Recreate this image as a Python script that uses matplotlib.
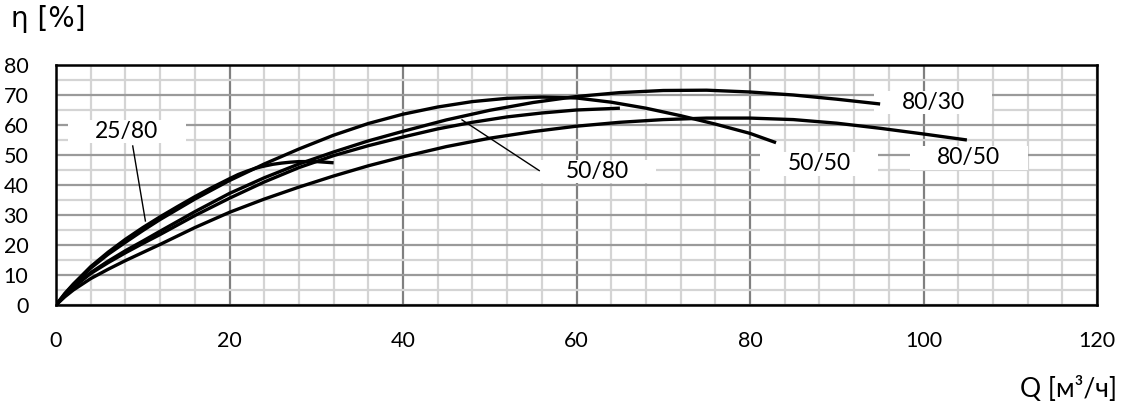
import matplotlib
matplotlib.use('Agg')
import matplotlib.pyplot as plt
from matplotlib.path import Path
from matplotlib.ticker import MultipleLocator

plt.rcParams['font.family'] = ['Lato', 'DejaVu Sans']

# efficiency curves: Q [m3/h] -> eta [%]
q_25_80 = [0, 1, 2, 4, 6, 8, 10, 12, 14, 16, 18, 20, 21, 22, 23, 24, 25, 26, 27, 28, 30, 32]
eta_25_80 = [0, 3.8, 7.0, 12.8, 17.6, 21.9, 25.8, 29.4, 32.8, 36.1, 39.2, 42.1, 43.5, 44.6,
             45.6, 46.3, 46.9, 47.3, 47.6, 47.8, 47.8, 47.4]

q_50_50 = [0, 1, 2, 4, 6, 8, 10, 12, 16, 20, 24, 28, 32, 36, 40, 44, 48, 52, 56, 60, 64, 68,
           72, 76, 80, 83]
eta_50_50 = [0, 3.6, 6.8, 12.3, 16.9, 20.9, 24.8, 28.5, 35.3, 41.5, 47.0, 52.0, 56.6, 60.5,
             63.6, 66.0, 67.8, 68.9, 69.3, 69.0, 67.6, 65.6, 63.1, 60.3, 57.2, 54.1]

q_50_80 = [0, 1, 2, 4, 6, 8, 10, 12, 16, 20, 24, 28, 32, 36, 40, 44, 48, 52, 56, 60, 65]
eta_50_80 = [0, 3.1, 5.9, 10.5, 14.1, 17.4, 20.5, 23.5, 29.8, 35.6, 41.0, 45.8, 49.8, 53.1,
             56.0, 58.7, 60.9, 62.7, 64.0, 65.0, 65.6]

q_80_30 = [0, 1, 2, 4, 6, 8, 10, 12, 16, 20, 24, 28, 32, 36, 40, 45, 50, 55, 60, 65, 70, 75,
           80, 85, 90, 95]
eta_80_30 = [0, 3.2, 6.1, 10.8, 14.6, 18.1, 21.3, 24.6, 31.1, 37.2, 42.4, 47.0, 51.0, 54.7,
             57.9, 61.7, 64.9, 67.5, 69.5, 70.8, 71.5, 71.6, 71.0, 70.0, 68.6, 67.0]

q_80_50 = [0, 1, 2, 4, 6, 8, 10, 12, 16, 20, 24, 28, 32, 36, 40, 45, 50, 55, 60, 65, 70, 75,
           80, 85, 90, 95, 100, 105]
eta_80_50 = [0, 2.7, 5.0, 8.8, 11.9, 14.8, 17.5, 20.2, 25.8, 30.9, 35.3, 39.3, 43.0, 46.4,
             49.4, 52.8, 55.6, 57.8, 59.6, 60.9, 61.8, 62.3, 62.3, 61.8, 60.6, 58.9, 57.0, 55.0]

curves = [(q_25_80, eta_25_80), (q_50_50, eta_50_50), (q_50_80, eta_50_80),
          (q_80_30, eta_80_30), (q_80_50, eta_80_50)]

# curve names and where they sit on the chart
label_names = ['25/80', '50/80', '50/50', '80/50', '80/30']
label_x = [8.15, 62.4, 88.0, 105.2, 101.1]
label_y = [57.8, 44.4, 47.0, 49.0, 67.5]

# leader lines (from curve to label)
leader_x = [[8.84, 10.3], [46.8, 55.7]]
leader_y = [[53.0, 28.0], [61.7, 44.8]]


def wide_box(x0, y0, width, height, mutation_size):
    # white box, much wider than it is tall
    px = mutation_size * 1.2
    py = mutation_size * 0.05
    x0, y0 = x0 - px, y0 - py
    x1, y1 = x0 + width + 2 * px, y0 + height + 2 * py
    return Path([(x0, y0), (x1, y0), (x1, y1), (x0, y1), (x0, y0)], closed=True)


fig = plt.figure(figsize=(11.3, 4.08), dpi=100)
ax = fig.add_axes([0.0496, 0.2525, 0.9212, 0.5882])

ax.set_xlim(0, 120)
ax.set_ylim(0, 80)
ax.xaxis.set_major_locator(MultipleLocator(20))
ax.xaxis.set_minor_locator(MultipleLocator(4))
ax.yaxis.set_major_locator(MultipleLocator(10))
ax.yaxis.set_minor_locator(MultipleLocator(5))

ax.grid(which='minor', axis='both', color='#d4d4d4', lw=1.6)
ax.grid(which='major', axis='y', color='#9a9a9a', lw=1.6)
ax.grid(which='major', axis='x', color='#808080', lw=1.6)
ax.set_axisbelow(True)

for s in ax.spines.values():
    s.set_linewidth(1.8)
    s.set_color('black')

ax.tick_params(which='both', length=0)
ax.tick_params(axis='y', pad=20, labelsize=15.5)
ax.tick_params(axis='x', pad=19, labelsize=15.5)

for q, eta in curves:
    ax.plot(q, eta, color='black', lw=2.4, solid_capstyle='butt',
            solid_joinstyle='round', zorder=3)

for lx, ly in zip(leader_x, leader_y):
    ax.plot(lx, ly, color='black', lw=1.0, zorder=3)

for name, x, y in zip(label_names, label_x, label_y):
    ax.text(x, y, name, ha='center', va='center', fontsize=16.5, zorder=2,
            bbox=dict(boxstyle=wide_box, fc='white', ec='none'))

fig.text(48 / 1130, 1 - 19 / 408, 'η [%]', ha='center', va='center', fontsize=20,
         family=['DejaVu Sans'])
fig.text(1069 / 1130, 1 - 389 / 408, 'Q [м³/ч]', ha='center', va='center', fontsize=19)

fig.savefig('out.png', dpi=100)
